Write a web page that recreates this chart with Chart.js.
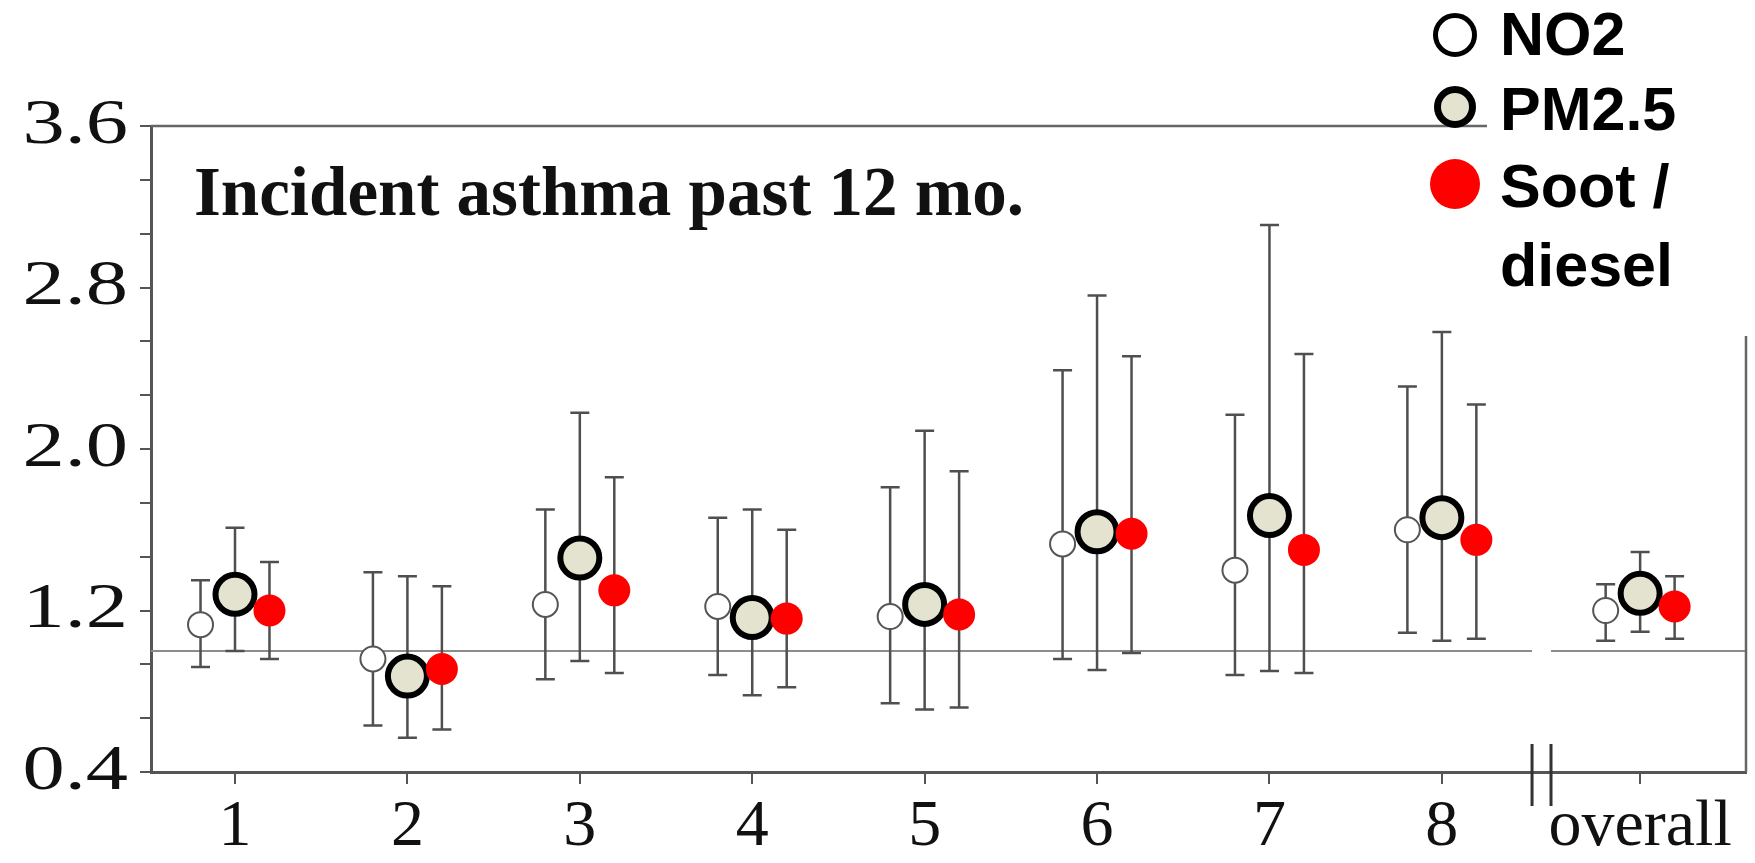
<!DOCTYPE html>
<html>
<head>
<meta charset="utf-8">
<script src="https://cdn.jsdelivr.net/npm/chart.js@4.4.1/dist/chart.umd.min.js"></script>
<style>
html, body { margin: 0; padding: 0; background: #fff; }
canvas { display: block; }
</style>
</head>
<body>
<canvas id="c" width="1755" height="863"></canvas>
<script>
// ── data (odds ratios with 95% CI) ────────────────────────────────
const categories = ['1', '2', '3', '4', '5', '6', '7', '8', 'overall'];

const no2   = [1.13, 0.96, 1.23, 1.22, 1.17, 1.53, 1.40, 1.60, 1.20];
const no2Lo = [0.92, 0.63, 0.86, 0.88, 0.74, 0.96, 0.88, 1.09, 1.05];
const no2Hi = [1.35, 1.39, 1.70, 1.66, 1.81, 2.39, 2.17, 2.31, 1.33];

const pm25   = [1.28, 0.875, 1.46, 1.165, 1.23, 1.59, 1.67, 1.66, 1.285];
const pm25Lo = [1.00, 0.57, 0.95, 0.78, 0.71, 0.905, 0.90, 1.05, 1.095];
const pm25Hi = [1.61, 1.37, 2.18, 1.70, 2.09, 2.76, 3.11, 2.58, 1.49];

const soot   = [1.20, 0.91, 1.30, 1.16, 1.18, 1.58, 1.50, 1.55, 1.22];
const sootLo = [0.96, 0.61, 0.89, 0.82, 0.72, 0.99, 0.89, 1.06, 1.06];
const sootHi = [1.44, 1.32, 1.86, 1.60, 1.89, 2.46, 2.47, 2.22, 1.37];

const yTickLabels = ['0.4', '1.2', '2.0', '2.8', '3.6'];
const refValue = 1.0;

// ── layout (not data) ─────────────────────────────────────────────
const catPos = [1, 2, 3, 4, 5, 6, 7, 8, 9.15];   // "overall" sits past the axis break
const breakAt = [8.523, 8.633];
const offsets = { no2: -0.2, pm: 0, soot: 0.2 };

const pts = (vals, lo, hi, off) =>
    vals.map((v, i) => ({ x: catPos[i] + off, y: v, lo: lo[i], hi: hi[i] }));

// y ticks: labelled majors with two unlabelled minors between each
const majors = yTickLabels.map(Number);
const yTicks = [];
for (let i = 0; i < majors.length; i++) {
    yTicks.push({ value: majors[i], major: true });
    if (i < majors.length - 1) {
        const step = (majors[i + 1] - majors[i]) / 3;
        yTicks.push({ value: majors[i] + step }, { value: majors[i] + 2 * step });
    }
}

const legendItems = [
    { lines: ['NO2'], ds: 0, r: 22, bw: 5, cy: 35, base: [55] },
    { lines: ['PM2.5'], ds: 1, r: 21, bw: 7, cy: 107, base: [130] },
    { lines: ['Soot /', 'diesel'], ds: 2, r: 25, bw: 0, cy: 184, base: [207, 286] }
];

const overlay = {
    id: 'overlay',
    beforeDatasetsDraw(chart) {
        const { ctx, chartArea: a, scales: { x, y } } = chart;
        ctx.save();
        // reference line at OR = 1, broken where the axis breaks
        const yr = y.getPixelForValue(refValue);
        ctx.strokeStyle = '#8c8c8c';
        ctx.lineWidth = 2;
        ctx.beginPath();
        ctx.moveTo(a.left, yr); ctx.lineTo(x.getPixelForValue(breakAt[0]), yr);
        ctx.moveTo(x.getPixelForValue(breakAt[1]), yr); ctx.lineTo(a.right, yr);
        ctx.stroke();

        // error bars
        ctx.strokeStyle = '#4f4f4f';
        ctx.lineWidth = 2.5;
        const cap = 9.5;
        chart.data.datasets.forEach(ds => {
            ds.data.forEach(p => {
                const px = x.getPixelForValue(p.x);
                const lo = y.getPixelForValue(p.lo), hi = y.getPixelForValue(p.hi);
                ctx.beginPath();
                ctx.moveTo(px, lo); ctx.lineTo(px, hi);
                ctx.moveTo(px - cap, lo); ctx.lineTo(px + cap, lo);
                ctx.moveTo(px - cap, hi); ctx.lineTo(px + cap, hi);
                ctx.stroke();
            });
        });
        ctx.restore();
    },
    afterDraw(chart) {
        const { ctx, chartArea: a, scales: { x, y } } = chart;
        ctx.save();

        // y tick labels: the source typeface is drawn wide, so stretch it
        ctx.fillStyle = '#111';
        ctx.font = '64px "Liberation Serif"';
        ctx.textAlign = 'right';
        ctx.textBaseline = 'middle';
        y.ticks.forEach((t, i) => {
            if (!t.label) return;
            ctx.save();
            ctx.translate(a.left - 23, y.getPixelForTick(i));
            ctx.scale(1.32, 1);
            ctx.fillText(t.label, 0, 0);
            ctx.restore();
        });

        // legend (sits on top of the frame's top-right corner)
        const lx = 1455, tx = 1500;
        const boxLeft = 1487, boxBottom = 336;

        // frame: top and right sides
        ctx.strokeStyle = '#666';
        ctx.lineWidth = 2.5;
        ctx.beginPath();
        ctx.moveTo(a.left, a.top); ctx.lineTo(boxLeft, a.top);
        ctx.moveTo(a.right, boxBottom); ctx.lineTo(a.right, a.bottom);
        ctx.stroke();

        // axis break marks
        ctx.strokeStyle = '#333';
        ctx.lineWidth = 3;
        ctx.beginPath();
        breakAt.forEach(v => {
            const bx = x.getPixelForValue(v);
            ctx.moveTo(bx, a.bottom - 28); ctx.lineTo(bx, a.bottom + 34);
        });
        ctx.stroke();

        // panel title
        ctx.fillStyle = '#111';
        ctx.font = 'bold 69px "Liberation Serif"';
        ctx.textBaseline = 'alphabetic';
        ctx.textAlign = 'left';
        ctx.fillText('Incident asthma past 12 mo.', a.left + 43, a.top + 89);

        legendItems.forEach(it => {
            const ds = chart.data.datasets[it.ds];
            ctx.beginPath();
            ctx.arc(lx, it.cy, it.r - it.bw / 2, 0, Math.PI * 2);
            ctx.fillStyle = ds.pointBackgroundColor;
            ctx.fill();
            if (it.bw) {
                ctx.lineWidth = it.bw;
                ctx.strokeStyle = '#000';
                ctx.stroke();
            }
            ctx.fillStyle = '#000';
            ctx.font = 'bold 61px "Liberation Sans"';
            it.lines.forEach((t, k) => ctx.fillText(t, tx, it.base[k]));
        });
        ctx.restore();
    }
};

new Chart(document.getElementById('c'), {
    type: 'scatter',
    data: {
        datasets: [
            {
                label: 'NO2',
                data: pts(no2, no2Lo, no2Hi, offsets.no2),
                pointRadius: 12.5,
                pointBackgroundColor: '#ffffff',
                pointBorderColor: '#555555',
                pointBorderWidth: 2,
                order: 3
            },
            {
                label: 'PM2.5',
                data: pts(pm25, pm25Lo, pm25Hi, offsets.pm),
                pointRadius: 19.5,
                pointBackgroundColor: '#e3e3d0',
                pointBorderColor: '#000000',
                pointBorderWidth: 6,
                order: 2
            },
            {
                label: 'Soot / diesel',
                data: pts(soot, sootLo, sootHi, offsets.soot),
                pointRadius: 16,
                pointBackgroundColor: '#ff0000',
                pointBorderColor: '#ff0000',
                pointBorderWidth: 0,
                order: 1
            }
        ]
    },
    options: {
        responsive: false,
        animation: false,
        events: [],
        layout: { autoPadding: false, padding: { top: 126, right: 9, left: 0, bottom: 0 } },
        plugins: { legend: { display: false }, tooltip: { enabled: false } },
        scales: {
            x: {
                type: 'linear',
                min: 0.5128,
                max: 9.764,
                afterBuildTicks: s => { s.ticks = catPos.map(v => ({ value: v })); },
                afterFit: s => { s.height = 91; s.paddingLeft = 0; s.paddingRight = 0; },
                ticks: {
                    callback: (v, i) => categories[i],
                    color: '#111',
                    font: { family: 'Liberation Serif', size: 66 },
                    padding: 4,
                    maxRotation: 0,
                    autoSkip: false
                },
                grid: { drawOnChartArea: false, drawTicks: true, tickLength: 12, color: '#555', lineWidth: 2 },
                border: { display: true, color: '#555', width: 3 }
            },
            y: {
                type: 'linear',
                min: majors[0],
                max: majors[majors.length - 1],
                afterBuildTicks: s => { s.ticks = yTicks.map(t => ({ value: t.value })); },
                afterFit: s => { s.width = 151; s.paddingTop = 0; s.paddingBottom = 0; },
                ticks: {
                    display: false,
                    callback: (v, i) => (yTicks[i].major ? v.toFixed(1) : ''),
                    autoSkip: false
                },
                grid: { drawOnChartArea: false, drawTicks: true, tickLength: 11, color: '#555', lineWidth: 2 },
                border: { display: true, color: '#555', width: 3 }
            }
        }
    },
    plugins: [overlay]
});
</script>
</body>
</html>
